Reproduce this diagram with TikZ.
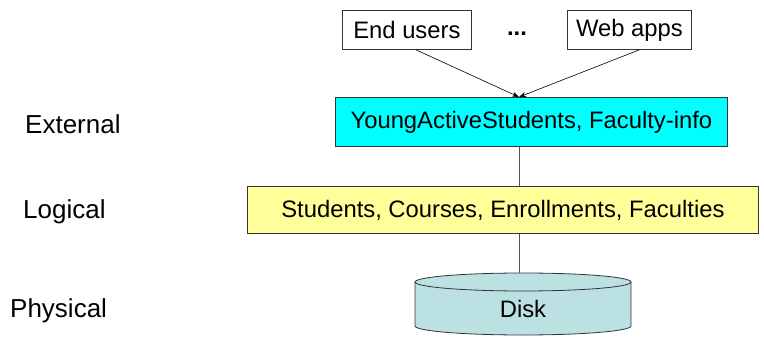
\documentclass[tikz,border=0pt]{standalone}
\usepackage{fontspec}
\setmainfont{Liberation Sans}
\usetikzlibrary{arrows.meta}
\definecolor{cyanbox}{RGB}{0,255,255}
\definecolor{yellowbox}{RGB}{255,255,153}
\definecolor{diskfill}{RGB}{187,225,227}
\definecolor{linegray}{RGB}{85,85,85}
\begin{document}
\begin{tikzpicture}[x=1pt,y=-1pt,
  txt/.style={font=\fontsize{23.8}{28}\selectfont, inner sep=0pt},
  lbl/.style={font=\fontsize{26}{30}\selectfont, inner sep=0pt, anchor=base west},
  boxnode/.style={txt, draw=black!80, line width=0.8pt, anchor=north west},
  arr/.style={-{Stealth[length=7pt,width=5pt]}, line width=0.6pt, black},
  conn/.style={line width=0.9pt, linegray}
]
\useasboundingbox (0,0) rectangle (764,337);

% top boxes
\node[boxnode, minimum width=129pt, minimum height=39pt] (eu) at (342,10) {End users};
\node[txt, anchor=base] (dots) at (517,36) {\textbf{...}};
\node[boxnode, minimum width=124pt, minimum height=39pt] (wa) at (567,10) {Web apps};

% external
\node[boxnode, fill=cyanbox, minimum width=392pt, minimum height=49pt] (ext) at (335,97) {YoungActiveStudents, Faculty-info};
% logical
\node[boxnode, fill=yellowbox, minimum width=511pt, minimum height=47pt] (logi) at (247,186) {Students, Courses, Enrollments, Faculties};

% disk
\fill[diskfill] (415,282) -- (415,326) arc[start angle=180, end angle=0, x radius=108, y radius=9] -- (631,282) -- cycle;
\draw[black!80, line width=0.8pt] (415,282) -- (415,326) arc[start angle=180, end angle=0, x radius=108, y radius=9] -- (631,282);
\draw[black!80, line width=0.8pt, fill=diskfill] (523,282) ellipse[x radius=108, y radius=9];
\node[txt] (disk) at (523,309) {Disk};
\coordinate (disktop) at (519,273);

% tip on external box
\coordinate (tip) at (519,97);

% connectors
\draw[arr] ([xshift=9pt]eu.south) -- (tip);
\draw[arr] ([xshift=10pt]wa.south) -- (tip);
\draw[conn] (ext.south -| tip) -- (logi.north -| tip);
\draw[conn] (logi.south -| tip) -- (disktop);

% level labels
\node[lbl] (lext) at (25,134) {External};
\node[lbl] (llog) at (23,218) {Logical};
\node[lbl] (lphy) at (10,317) {Physical};
\end{tikzpicture}
\end{document}
